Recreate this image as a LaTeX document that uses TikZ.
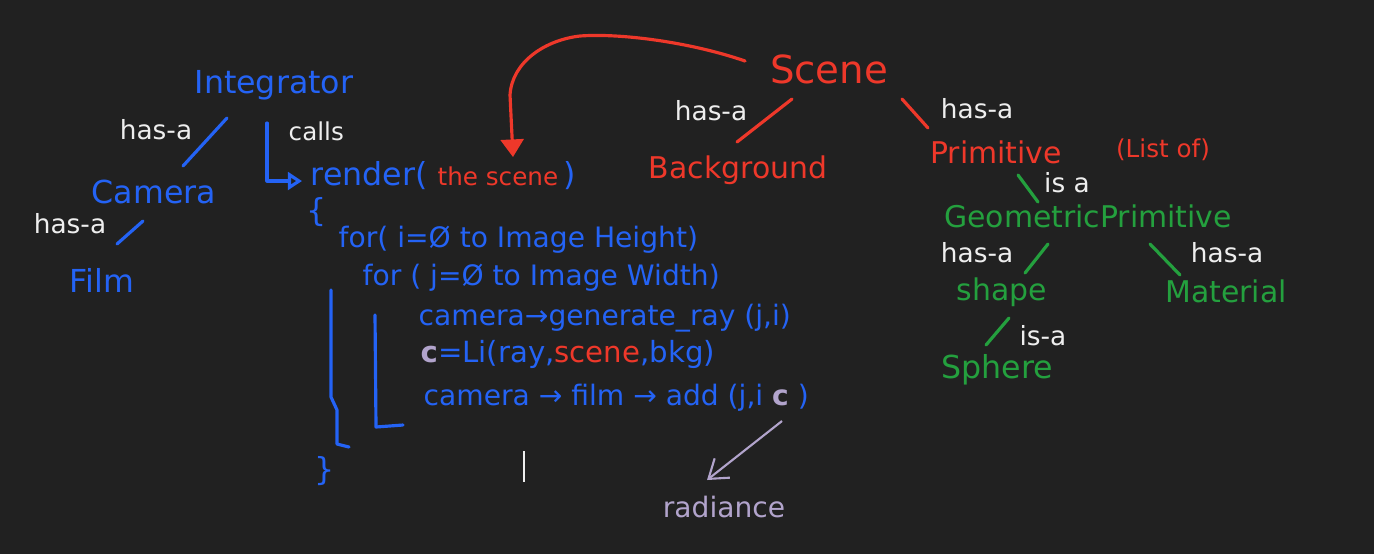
\documentclass[tikz,border=0pt]{standalone}
\usepackage{fontspec}
\setmainfont{DejaVu Sans}
\usetikzlibrary{arrows.meta,positioning}
\definecolor{boardbg}{RGB}{33,33,33}
\definecolor{inkblue}{RGB}{36,99,245}
\definecolor{inkred}{RGB}{238,56,42}
\definecolor{inkgreen}{RGB}{36,160,62}
\definecolor{inkwhite}{RGB}{238,238,238}
\definecolor{inklav}{RGB}{178,164,204}
\tikzset{
	word/.style={inner sep=0pt, font=\fontsize{#1}{#1}\selectfont},
	bluew/.style={word=#1, text=inkblue},
	redw/.style={word=#1, text=inkred},
	greenw/.style={word=#1, text=inkgreen},
	whitew/.style={word=#1, text=inkwhite},
	lavw/.style={word=#1, text=inklav},
	stroke/.style={line width=0.9pt, line cap=round, line join=round},
}
\begin{document}
\begin{tikzpicture}[x=0.01cm, y=-0.01cm]
		\useasboundingbox (0,0) rectangle (1374,554);
		\fill[boardbg] (0,0) rectangle (1374,554);
		% integrator side
		\node[bluew=9, anchor=base] (integ) at (274,93) {Integrator};
		\node[whitew=7.5, anchor=base] (hasa1) at (156,139) {has-a};
		\node[bluew=9, anchor=base] (camera) at (154,203) {Camera};
		\node[whitew=7.5, anchor=base] (hasa2) at (70,233) {has-a};
		\node[bluew=9, anchor=base] (film) at (102,292) {Film};
		\draw[stroke, inkblue] ([shift={(-47,25)}]integ.base) -- ([shift={(29,-37)}]camera.base);
		\draw[stroke, inkblue] ([shift={(-11,18)}]camera.base) -- ([shift={(15,-48)}]film.base);
		% render call
		\node[whitew=7, anchor=base west] (calls) at (288,140) {calls};
		\node[bluew=9, anchor=base west] (render) at (310,185) {render(};
		\node[redw=7, anchor=base west] (thescene) at (437,185) {the scene};
		\node[bluew=9, base right=1pt of thescene] (rparen) {)};
		\draw[stroke, inkblue, -{Triangle[open, length=4pt, width=5pt]}] ([shift={(-21,-17)}]calls.base west) |- ([shift={(-8,-4)}]render.base west);
		\node[bluew=9] (lbrace) at (317,212) {\{};
		\node[bluew=8, anchor=base west] (forrow) at (338,247) {for( i=Ø to Image Height)};
		\node[bluew=8, anchor=base west] (forcol) at (362,285) {for ( j=Ø to Image Width)};
		\node[bluew=8, anchor=base west] (genray) at (418,325) {camera→generate\_ray (j,i)};
		\node[bluew=8.3, anchor=base west] (li) at (420,362) {\textcolor{inklav}{\textbf{c}}=Li(ray,\textcolor{inkred}{scene},bkg)};
		\node[bluew=8, anchor=base west] (addfilm) at (423,405) {camera → film → add (j,i \textcolor{inklav}{\textbf{c}} )};
		\node[bluew=9] (rbrace) at (325,471) {\}};
		\draw[stroke, inkblue] (331,290) -- (331,397) -- (337,410) -- (337,444) -- (349,447);
		\draw[stroke, inkblue] (375,315) -- (376,427) -- (403,425);
		\draw[inkwhite, line width=0.5pt] (524,451) -- (524,482);
		% radiance
		\node[lavw=8, anchor=base] (radiance) at (724,517) {radiance};
		\draw[inklav, line width=0.6pt, -{Straight Barb[length=5pt, width=7pt]}] ([shift={(359,16)}]addfilm.base west) -- ([shift={(-17,-37)}]radiance.base);
		% scene side
		\node[redw=11, anchor=base] (scene) at (829,83) {Scene};
		\draw[stroke, inkred, -{Triangle[length=5pt, width=6.5pt]}] ([shift={(-84,-22)}]scene.base) .. controls (690,42) and (620,33) .. (580,36) .. controls (545,40) and (512,62) .. (510,95) -- ([shift={(76,-28)}]thescene.base west);
		\node[whitew=7.5, anchor=base] (hasa3) at (711,120) {has-a};
		\node[redw=8.5, anchor=base] (background) at (738,178) {Background};
		\node[whitew=7.5, anchor=base] (hasa4) at (977,118) {has-a};
		\node[redw=8.5, anchor=base] (primitive) at (996,163) {Primitive};
		\node[redw=7, anchor=base] (listof) at (1163,157) {(List of)};
		\draw[stroke, inkred] ([shift={(-37,16)}]scene.base) -- ([shift={(-1,-36)}]background.base);
		\draw[stroke, inkred] ([shift={(73,16)}]scene.base) -- ([shift={(-68,-35)}]primitive.base);
		% primitive side
		\node[whitew=7.5, anchor=base] (isa1) at (1067,192) {is a};
		\node[greenw=8.5, anchor=base] (geoprim) at (1088,227) {GeometricPrimitive};
		\node[whitew=7.5, anchor=base] (hasa5) at (977,262) {has-a};
		\node[whitew=7.5, anchor=base] (hasa6) at (1227,262) {has-a};
		\node[greenw=8.5, anchor=base] (shapeobj) at (1002,300) {shape};
		\node[greenw=8.5, anchor=base] (material) at (1226,302) {Material};
		\node[whitew=7.5, anchor=base] (isa2) at (1043,345) {is-a};
		\node[greenw=9, anchor=base] (sphere) at (997,378) {Sphere};
		\draw[stroke, inkgreen] ([shift={(22,12)}]primitive.base) -- ([shift={(-50,-25)}]geoprim.base);
		\draw[stroke, inkgreen] ([shift={(-40,17)}]geoprim.base) -- ([shift={(23,-27)}]shapeobj.base);
		\draw[stroke, inkgreen] ([shift={(62,17)}]geoprim.base) -- ([shift={(-46,-27)}]material.base);
		\draw[stroke, inkgreen] ([shift={(7,18)}]shapeobj.base) -- ([shift={(-11,-33)}]sphere.base);
	\end{tikzpicture}
\end{document}
